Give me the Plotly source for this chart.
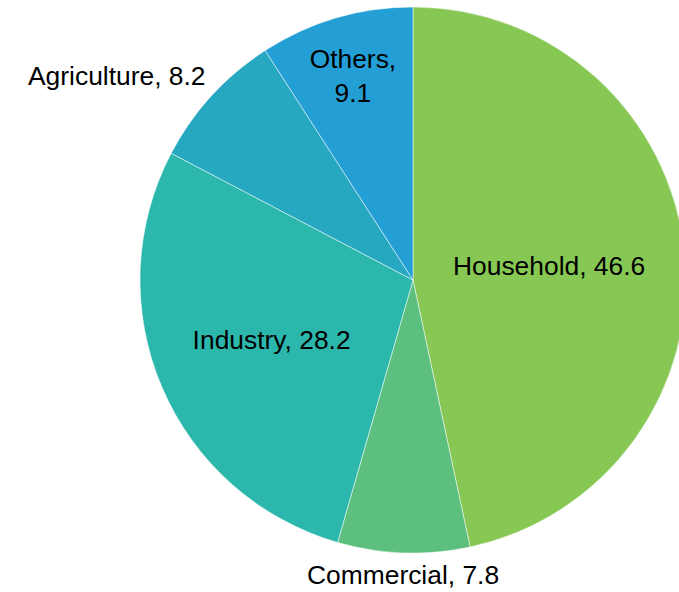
import math
import plotly.graph_objects as go

labels = ["Household", "Commercial", "Industry", "Agriculture", "Others"]
values = [46.6, 7.8, 28.2, 8.2, 9.1]
colors = ["#87c753", "#5cbf7d", "#2cb7ad", "#25a8c0", "#249fd5"]
positions = ["inside", "outside", "inside", "outside", "inside"]
wrap_labels = {"Others"}

FONT = dict(family="Liberation Sans, Arial, sans-serif", size=26.4, color="black")
FIG_W, FIG_H = 700, 592
MARGIN = dict(l=0, r=0, t=7, b=39)
DOMAIN_X = [0.2, 0.98]
DOMAIN_Y = [0, 1]
LABEL_GAP = 6  # px between pie edge and outside label

texts = [f"{l},<br>{v}" if l in wrap_labels else f"{l}, {v}" for l, v in zip(labels, values)]
pie_text = [t if p == "inside" else "" for t, p in zip(texts, positions)]
pie_pos = [p if p == "inside" else "none" for p in positions]

fig = go.Figure(go.Pie(
    labels=labels,
    values=values,
    text=pie_text,
    textinfo="text",
    textposition=pie_pos,
    insidetextorientation="horizontal",
    sort=False,
    direction="clockwise",
    rotation=0,
    marker=dict(colors=colors, line=dict(color="white", width=0.5)),
    textfont=FONT,
    insidetextfont=FONT,
    domain=dict(x=DOMAIN_X, y=DOMAIN_Y),
    hoverinfo="label+value",
))

# outside labels placed from the pie geometry (mid-angle of each slice)
plot_w = FIG_W - MARGIN["l"] - MARGIN["r"]
plot_h = FIG_H - MARGIN["t"] - MARGIN["b"]
cx = (DOMAIN_X[0] + DOMAIN_X[1]) / 2
cy = (DOMAIN_Y[0] + DOMAIN_Y[1]) / 2
r_px = min((DOMAIN_X[1] - DOMAIN_X[0]) * plot_w, (DOMAIN_Y[1] - DOMAIN_Y[0]) * plot_h) / 2
total = sum(values)
cum = 0.0
for t, v, p in zip(texts, values, positions):
    mid = (cum + v / 2) / total * 2 * math.pi
    cum += v
    if p != "outside":
        continue
    sx, sy = math.sin(mid), math.cos(mid)  # sy: upward component
    rr = r_px + LABEL_GAP
    xa = "right" if sx < -0.3 else ("left" if sx > 0.3 else "center")
    ya = "bottom" if sy > 0.3 else ("top" if sy < -0.3 else "middle")
    fig.add_annotation(
        x=cx + rr * sx / plot_w, y=cy + rr * sy / plot_h,
        xref="paper", yref="paper", text=t, showarrow=False,
        xanchor=xa, yanchor=ya, font=FONT, borderpad=0,
    )

fig.update_layout(
    width=FIG_W,
    height=FIG_H,
    margin=MARGIN,
    showlegend=False,
    paper_bgcolor="white",
    plot_bgcolor="white",
)

fig.write_html(
    "out.html",
    post_script="document.documentElement.style.overflow='hidden';document.body.style.overflow='hidden';document.body.style.margin='0';",
)
